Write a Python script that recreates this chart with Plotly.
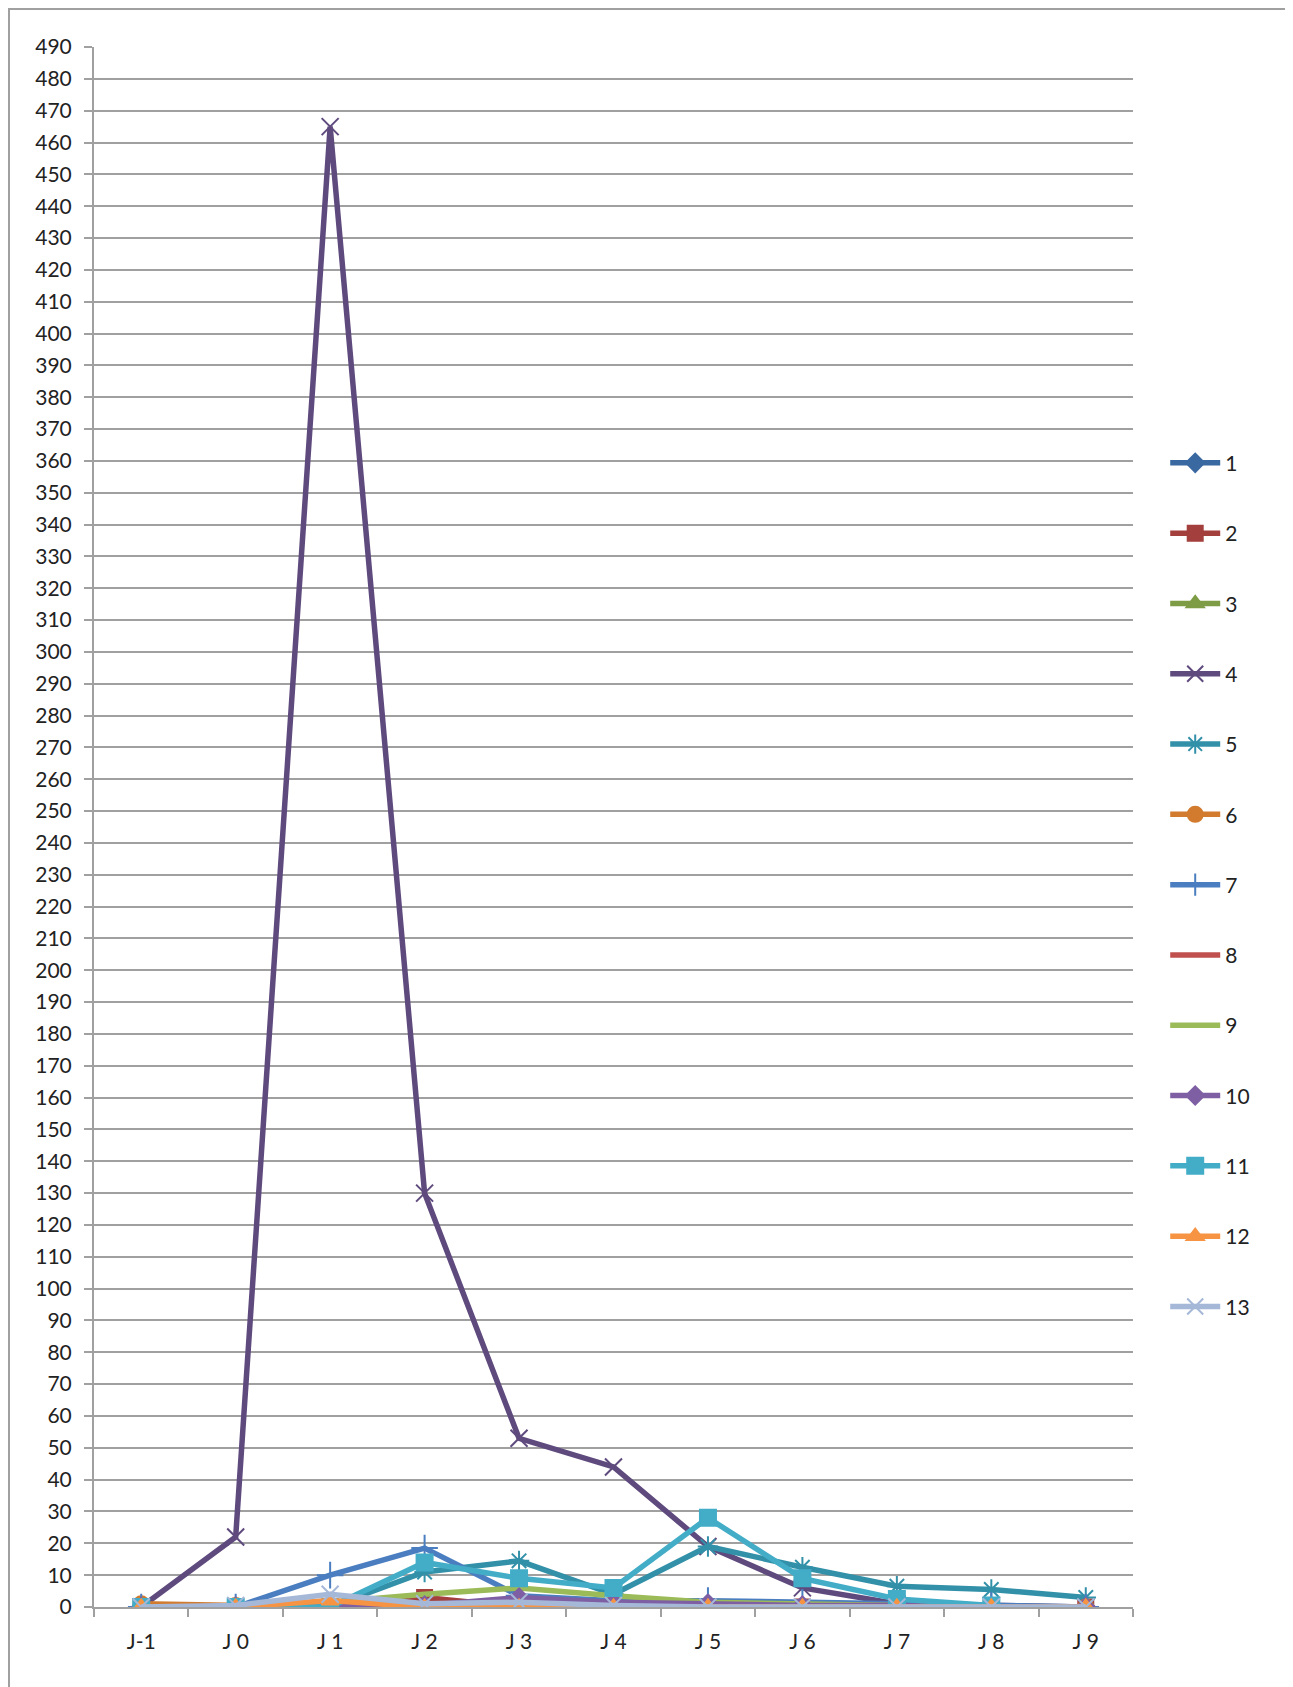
import plotly.graph_objects as go

categories = ["J-1", "J 0", "J 1", "J 2", "J 3", "J 4", "J 5", "J 6", "J 7", "J 8", "J 9"]

s1 = [0, 0, 0, 0, 0, 0, 1, 0, 0, 0, 0]
s2 = [0, 0, 0, 3, 0, 0, 0, 0, 0, 0, 0]
s3 = [0, 0, 0, 0, 0, 0, 0, 0, 0, 0, 0]
s4 = [0, 22, 465, 130, 53, 44, 19, 6, 1, 0.5, 0]
s5 = [0, 0, 0, 11, 14.5, 4, 19, 12.5, 6.5, 5.5, 3]
s6 = [1, 0.5, 0, 0, 0, 0, 0, 0, 0, 0, 0]
s7 = [0, 0, 10, 18.5, 3.5, 2, 2, 1.5, 1, 0.5, 0]
s8 = [0, 0, 0, 1, 0.5, 0, 0, 0.5, 0.5, 0, 0]
s9 = [0, 0, 1.5, 4, 6, 3.5, 1.5, 1, 0.5, 0, 0]
s10 = [0, 0, 0, 0.5, 3, 1.5, 1, 0.5, 0.5, 0, 0]
s11 = [0, 0, 0, 14, 9, 6, 28, 9, 2.5, 0.5, None]
s12 = [0, 0, 2, 0, 0, 0, 0, 0, 0, 0, 0]
s13 = [0, 0.5, 4, 1, 1.5, 0.5, 0, 0, 0, 0, 0]

series_names = ["1", "2", "3", "4", "5", "6", "7", "8", "9", "10", "11", "12", "13"]
series_values = [s1, s2, s3, s4, s5, s6, s7, s8, s9, s10, s11, s12, s13]

colors = ["#3A69A1", "#A33F3C", "#7E9B45", "#5F4A7E", "#3290A8", "#D27B2E",
          "#4A7EC0", "#C0504D", "#9BBB59", "#7F5FA4", "#43ADC8", "#F79443", "#A5B8D8"]
symbols = ["diamond", "square", "triangle-up", "x-thin-open", "asterisk-open", "circle",
           "cross-thin-open", None, None, "diamond", "square", "triangle-up", "x-thin-open"]
sizes = [14, 15, 15, 17, 17, 15, 19, 0, 0, 14, 16, 15, 17]

fig = go.Figure()
for name, vals, col, sym, sz in zip(series_names, series_values, colors, symbols, sizes):
    if sym is None:
        fig.add_trace(go.Scatter(x=categories, y=vals, name=name, mode="lines",
                                 line=dict(color=col, width=5.5), legendgroup=name))
    else:
        fig.add_trace(go.Scatter(x=categories, y=vals, name=name, mode="lines+markers",
                                 line=dict(color=col, width=5.5),
                                 marker=dict(symbol=sym, size=sz, color=col,
                                             line=dict(color=col, width=2)),
                                 legendgroup=name))

fig.update_layout(
    width=1293, height=1687,
    margin=dict(l=86, r=168, t=39, b=88),
    paper_bgcolor="white", plot_bgcolor="white",
    font=dict(family="Lato, Open Sans, sans-serif", size=21, color="#222222"),
    showlegend=True,
    legend=dict(x=1.031, xanchor="left", y=0.463, yanchor="middle",
                tracegroupgap=40, font=dict(size=21), itemwidth=50,
                bgcolor="rgba(0,0,0,0)"),
    xaxis=dict(type="category", range=[-0.5, 10.5], showgrid=False,
               showline=True, linecolor="#A0A0A0", linewidth=2,
               ticks="outside", tickson="boundaries", ticklen=8, tickcolor="#A0A0A0",
               tickwidth=2, zeroline=False, ticklabelstandoff=15),
    yaxis=dict(range=[0, 490], dtick=10, tick0=0, showgrid=True, gridcolor="#A0A0A0",
               gridwidth=2, showline=True, linecolor="#A0A0A0", linewidth=2,
               ticks="outside", ticklen=8, tickcolor="#A0A0A0", tickwidth=2,
               zeroline=False, ticklabelstandoff=8),
    shapes=[dict(type="rect", xref="paper", yref="paper",
                 x0=-0.0818, x1=1.150, y0=-0.07, y1=1.0244,
                 line=dict(color="#A0A0A0", width=2), fillcolor="rgba(0,0,0,0)",
                 layer="below")],
)

fig.write_html("out.html")
